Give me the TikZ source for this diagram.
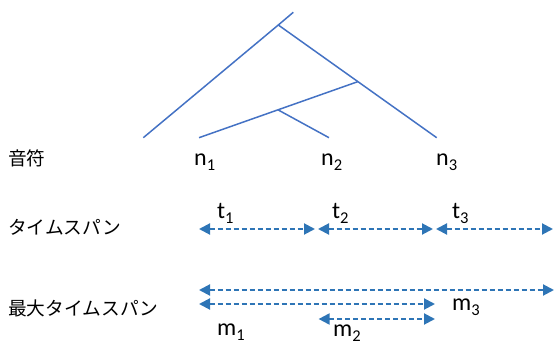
\documentclass[tikz,border=0pt]{standalone}
\usepackage{fontspec}
\setmainfont{Carlito}
\newfontfamily\jp{Noto Sans CJK JP}
\usetikzlibrary{arrows.meta}
\definecolor{treeblue}{RGB}{68,114,196}
\definecolor{arrblue}{RGB}{46,117,182}
\newcommand{\lbl}[2]{#1\raisebox{-5pt}{\fontsize{16.5}{16.5}\selectfont #2}}
\begin{document}
\begin{tikzpicture}[x=1pt,y=-1pt,
  tree/.style={draw=treeblue,line width=1.5pt},
  span/.style={draw=arrblue,line width=2pt,dash pattern=on 5pt off 3pt,
    {Triangle[length=11pt,width=11pt]}-{Triangle[length=11pt,width=11pt]}},
  jlabel/.style={font=\jp\fontsize{18.7}{19}\selectfont,anchor=base west,inner sep=0pt},
  vlabel/.style={font=\fontsize{24}{24}\selectfont,anchor=base west,inner sep=0pt},
  tlabel/.style={font=\fontsize{24}{24}\selectfont,anchor=base west,inner sep=0pt}]
\useasboundingbox (0,0) rectangle (555,345);
% tree
\coordinate (top) at (293.3,12.3);
\coordinate (root) at (278.3,25);
\coordinate (leafL) at (143.3,137.7);
\coordinate (leaf3) at (436.7,137.7);
\coordinate (j2) at (357.7,81.7);
\coordinate (leaf1) at (199,137.7);
\coordinate (j1) at (278.3,110);
\coordinate (leaf2) at (329,137.7);
\draw[tree] (top) -- (root);
\draw[tree] (root) -- (leafL);
\draw[tree] (root) -- (leaf3);
\draw[tree] (j2) -- (leaf1);
\draw[tree] (j1) -- (leaf2);
% row labels
\node[jlabel] (lnote) at (8,165) {音符};
\node[jlabel] (lspan) at (8,234.5) {タイムスパン};
\node[jlabel] (lmax) at (8,315) {最大タイムスパン};
% notes
\node[vlabel] (n1) at (194,165) {\lbl{n}{1}};
\node[vlabel] (n2) at (321,165) {\lbl{n}{2}};
\node[vlabel] (n3) at (436,165) {\lbl{n}{3}};
% time spans
\coordinate (t1a) at (199,229);
\coordinate (t1b) at (315,229);
\coordinate (t2a) at (318,229);
\coordinate (t2b) at (433,229);
\coordinate (t3a) at (436,229);
\coordinate (t3b) at (553,229);
\draw[span] (t1a) -- (t1b);
\draw[span] (t2a) -- (t2b);
\draw[span] (t3a) -- (t3b);
\node[tlabel] (t1) at (217,218.3) {\lbl{t}{1}};
\node[tlabel] (t2) at (332,218.3) {\lbl{t}{2}};
\node[tlabel] (t3) at (452,218.3) {\lbl{t}{3}};
% maximal time spans
\coordinate (m3a) at (199,290);
\coordinate (m3b) at (554,290);
\coordinate (m1a) at (199,304);
\coordinate (m1b) at (435,304);
\coordinate (m2a) at (318.6,319);
\coordinate (m2b) at (435,319);
\draw[span] (m3a) -- (m3b);
\draw[span] (m1a) -- (m1b);
\draw[span] (m2a) -- (m2b);
\node[vlabel] (m1) at (217,335) {\lbl{m}{1}};
\node[vlabel] (m2) at (333,336) {\lbl{m}{2}};
\node[vlabel] (m3) at (452,310) {\lbl{m}{3}};
\end{tikzpicture}
\end{document}
